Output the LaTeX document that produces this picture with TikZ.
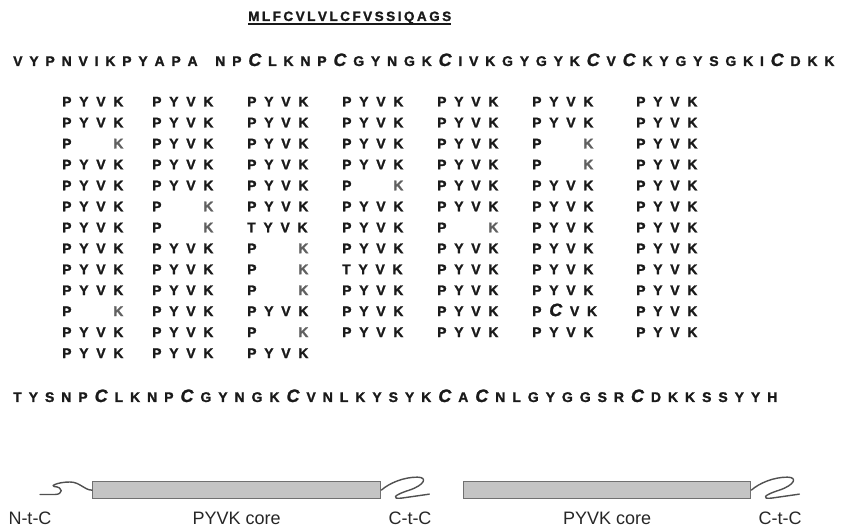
\documentclass[tikz,border=0pt]{standalone}
\usepackage{fontspec}
\setmainfont{Liberation Sans}
\newfontfamily\seqfamily[FakeBold=1.5]{Liberation Sans}
\newfontfamily\bcfamily[FakeBold=1.2]{Liberation Sans}
\newfontfamily\titlefamily[FakeBold=1.5]{Liberation Sans}
\definecolor{ink}{HTML}{1A1A1A}
\definecolor{kgray}{HTML}{606060}
\definecolor{boxfill}{HTML}{C4C4C4}
\definecolor{boxline}{HTML}{707070}
\definecolor{tailcol}{HTML}{505050}
\newlength\gk \setlength\gk{7.7pt}
\newlength\lk \setlength\lk{6.95pt}
\newlength\nk \setlength\nk{6.8pt}
\newlength\tk \setlength\tk{2.5pt}
\makeatletter
\newcommand\spaced[2]{\def\sp@k{#1}\sp@loop#2\relax}
\def\sp@loop#1{\ifx#1\relax\else#1\kern\sp@k\expandafter\sp@loop\fi}
\makeatother
\newcommand\gap{\kern4pt}
\newcommand\seqstyle{\seqfamily\bfseries\fontsize{14}{14}\selectfont}
\newcommand\bc{{\bcfamily\bfseries\itshape\fontsize{18}{18}\selectfont C}}
\newcommand\cellY{\spaced{\gk}{PYVK}}
\newcommand\cellT{\spaced{\gk}{TYVK}}
\newcommand\cellC{\spaced{\gk}{P\bc VK}}
\newcommand\cellK{P\kern\gk\phantom{Y}\kern\gk\phantom{V}\kern\gk\textcolor{kgray}{K}}
\tikzset{
  seq/.style={anchor=base west, inner sep=0pt, font=\seqstyle, text=ink},
  cell/.style={seq},
  titletext/.style={anchor=base west, inner sep=0pt, font=\titlefamily\bfseries\fontsize{13.5}{13.5}\selectfont, text=ink},
  corebox/.style={draw=boxline, fill=boxfill, line width=1.3pt, minimum height=17pt, anchor=north west, inner sep=0pt},
  tail/.style={draw=tailcol, line width=1.4pt, line cap=round, line join=round},
  lab/.style={anchor=base, inner sep=0pt, font=\fontsize{18}{18}\selectfont, text=black!85}
}
\begin{document}
\begin{tikzpicture}[x=1pt,y=-1pt]
\useasboundingbox (0,0) rectangle (841,529);
% signal peptide
\node[titletext] (title) at (248,21) {\spaced{\tk}{MLFCVLVLCFVSSIQAGS}};
\draw[ink, line width=1.4pt] ([yshift=-3pt]title.base west) -- ([yshift=-3pt,xshift=-\tk]title.base east);
% N-terminal sequence
\node[seq] (seqN) at (13,66) {\spaced{\nk}{VYPNVIKPYAPA\gap NP\bc LKNP\bc GYNGK\bc IVKGYGYK\bc V\bc KYGYSGKI\bc DKK}};
% repeat grid
\foreach \row [count=\r] in {
  {Y,Y,Y,Y,Y,Y,Y},
  {Y,Y,Y,Y,Y,Y,Y},
  {K,Y,Y,Y,Y,K,Y},
  {Y,Y,Y,Y,Y,K,Y},
  {Y,Y,Y,K,Y,Y,Y},
  {Y,K,Y,Y,Y,Y,Y},
  {Y,K,T,Y,K,Y,Y},
  {Y,Y,K,Y,Y,Y,Y},
  {Y,Y,K,T,Y,Y,Y},
  {Y,Y,K,Y,Y,Y,Y},
  {K,Y,Y,Y,Y,C,Y},
  {Y,Y,K,Y,Y,Y,Y},
  {Y,Y,Y}} {
  \foreach \code [count=\c] in \row {
    \pgfmathsetmacro\xx{{62,152,247,342,437,532,636}[\c-1]}
    \pgfmathsetmacro\yy{106.5+20.96*(\r-1)}
    \node[cell] (g-\r-\c) at (\xx,\yy) {\csname cell\code\endcsname};
  }
}
% C-terminal sequence
\node[seq] (seqC) at (13,402) {\spaced{\lk}{TYSNP\bc LKNP\bc GYNGK\bc VNLKYSYK\bc A\bc NLGYGGSR\bc DKKSSYYH}};
% domain diagram
\node[corebox, minimum width=288pt] (core1) at (92,481) {};
\node[corebox, minimum width=287pt] (core2) at (463,481) {};
\coordinate (nstart) at (40,494.5);
\draw[tail] (nstart) -- (55,494.5) .. controls (63,494.5) and (64,487) .. (54,486.5)
  .. controls (50,486) and (58,482) .. (70,482) .. controls (80,482) and (84,490) .. (core1.west);
\foreach \b in {core1,core2} {
  \draw[tail] (\b.east) .. controls +(8,-7) and +(-14,0) .. ++(36,-13)
    .. controls +(11,0) and +(15,-5) .. ++(-8,13)
    .. controls +(-16,5) and +(-10,1) .. ++(-8,8) -- ++(28,-4);
}
\node[lab] (labN) at (30,524) {N-t-C};
\node[lab] (lab1) at (core1.south |- 0,524) {PYVK core};
\node[lab] (labC1) at (410,524) {C-t-C};
\node[lab] (lab2) at (core2.south |- 0,524) {PYVK core};
\node[lab] (labC2) at (780,524) {C-t-C};
\end{tikzpicture}
\end{document}
